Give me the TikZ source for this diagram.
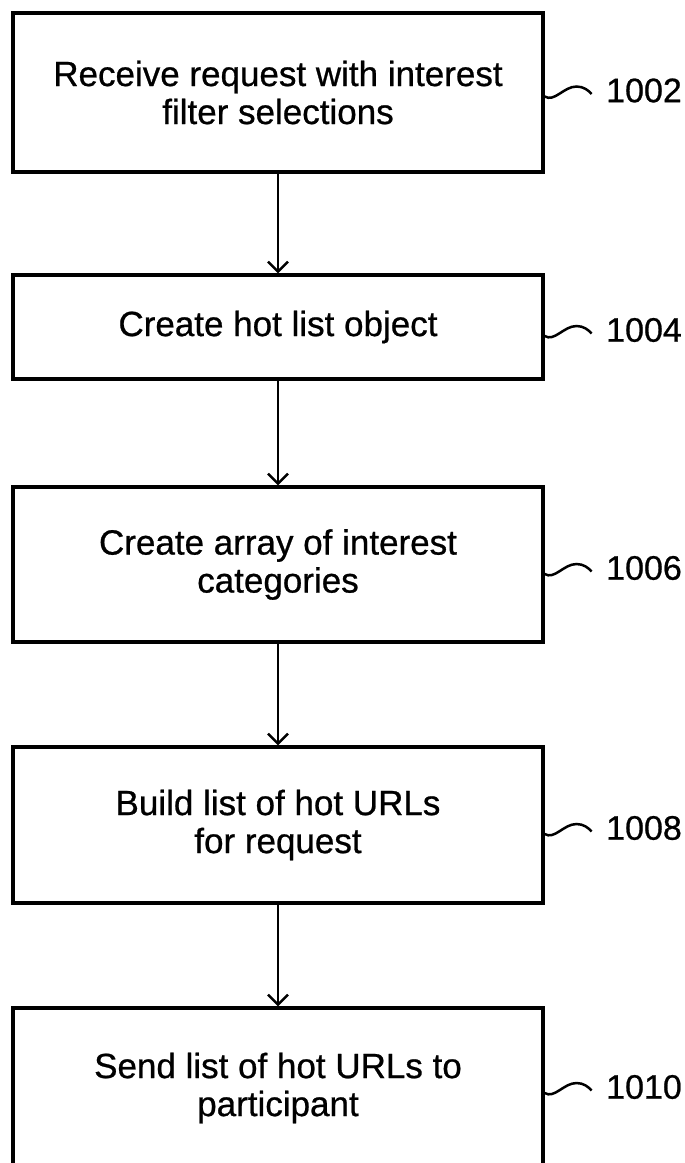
\documentclass[tikz,border=0pt]{standalone}
\usepackage{fontspec}
\setmainfont{Liberation Sans}
\newfontfamily\diagfont[FakeBold=0.7]{Liberation Sans}
\usetikzlibrary{arrows.meta,calc}
\tikzset{
  stepbox/.style={draw=black, line width=3.2pt, minimum width=530pt, inner sep=0pt,
    align=center, font=\diagfont\fontsize{35}{38}\selectfont, text=black},
  flowarrow/.style={line width=2.5pt, -{Straight Barb[length=10pt,width=20pt]}},
  reflabel/.style={anchor=west, inner sep=0pt, font=\diagfont\fontsize{34}{38}\selectfont},
  tildeline/.style={line width=2.5pt}
}
\newcommand{\tildeto}[2]{%
  \coordinate (ts) at ($(#1.east |- #2.center)+(0,6)$);
  \draw[tildeline] (ts) .. controls ($(ts)+(10,6)$) and ($(ts)+(19,-10)$) .. ($(ts)+(32,-10)$)
     .. controls ($(ts)+(39,-10)$) and ($(ts)+(44,-6)$) .. ($(ts)+(47,-2.5)$);
}
\begin{document}
\begin{tikzpicture}[x=1pt, y=-1pt]
\useasboundingbox (0,0) rectangle (685,1163);
\node[stepbox, minimum height=159pt] (b1) at (278,92.5) {Receive request with interest\\filter selections};
\node[stepbox, minimum height=104pt] (b2) at (278,327) {Create hot list object};
\node[stepbox, minimum height=155pt] (b3) at (278,564.5) {Create array of interest\\categories};
\node[stepbox, minimum height=156pt] (b4) at (278,825) {Build list of hot URLs\\for request};
\node[stepbox, minimum height=160pt] (b5) at (278,1088) {Send list of hot URLs to\\participant};

\draw[flowarrow] (b1.south) -- (b2.north);
\draw[flowarrow] (b2.south) -- (b3.north);
\draw[flowarrow] (b3.south) -- (b4.north);
\draw[flowarrow] (b4.south) -- (b5.north);

\node[reflabel] (l1) at (606,90.5) {1002};
\node[reflabel] (l2) at (606,330) {1004};
\node[reflabel] (l3) at (606,568) {1006};
\node[reflabel] (l4) at (606,828) {1008};
\node[reflabel] (l5) at (606,1087) {1010};

\tildeto{b1}{l1}
\tildeto{b2}{l2}
\tildeto{b3}{l3}
\tildeto{b4}{l4}
\tildeto{b5}{l5}
\end{tikzpicture}
\end{document}
